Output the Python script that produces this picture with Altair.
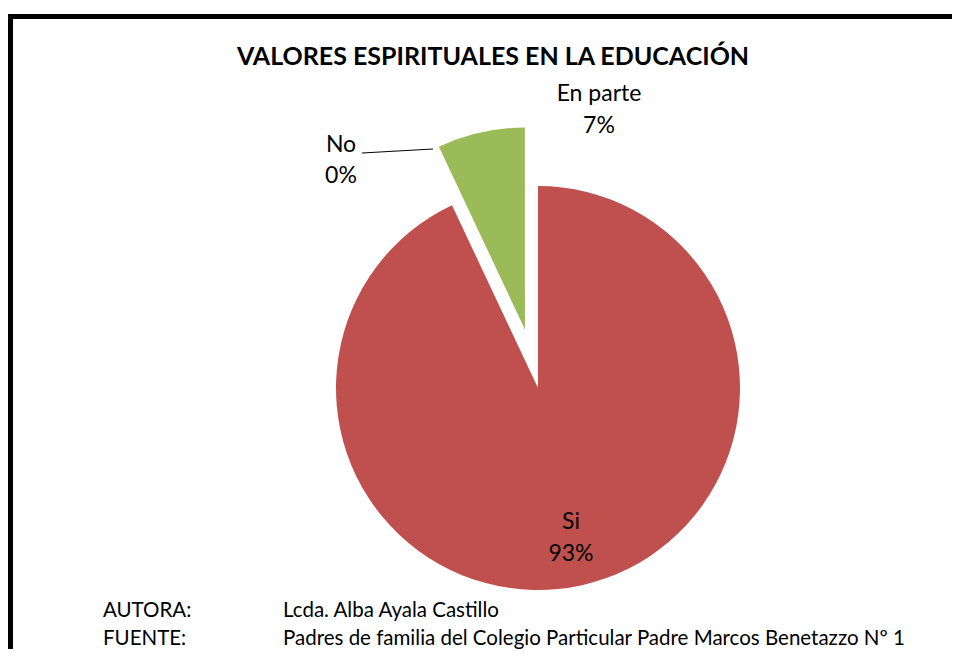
import math
import altair as alt
import pandas as pd

# ---- data ----
categorias = ["Si", "En parte", "No"]
valores = [93, 7, 0]
colores = ["#C0504D", "#9BBB59", "#4F81BD"]

titulo = "VALORES ESPIRITUALES EN LA EDUCACIÓN"
pie_etiquetas = ["AUTORA:", "FUENTE:"]
pie_textos = ["Lcda. Alba Ayala Castillo",
              "Padres de familia del Colegio Particular Padre Marcos Benetazzo Nº 1"]

df = pd.DataFrame({"categoria": categorias, "valor": valores})

W, H = 944, 641
CX, CY, R = 530, 380, 202
FONT = "Lato"

base = (
    alt.Chart(df)
    .transform_window(orden="row_number()")
    .transform_stack(stack="valor", groupby=[], as_=["v0", "v1"],
                     sort=[alt.SortField("orden")])
    .transform_calculate(etiqueta="datum.categoria + '\\n' + datum.valor + '%'")
)

theta_scale = alt.Scale(domain=[0, 100], range=[0, 2 * math.pi])
color = alt.Color("categoria:N", scale=alt.Scale(domain=categorias, range=colores),
                  legend=None)

def slice_layer(cat, dx=0.0, dy=0.0):
    return base.transform_filter(alt.datum.categoria == cat).mark_arc(
        outerRadius=R, xOffset=dx, yOffset=dy
    ).encode(
        theta=alt.Theta("v0:Q", scale=theta_scale),
        theta2="v1:Q",
        color=color,
        x=alt.value(CX), y=alt.value(CY),
    )

# explode "En parte" along its bisector
mid = (93 + 3.5) / 100 * 2 * math.pi
D = 60
arc_si = slice_layer("Si")
arc_ep = slice_layer("En parte", D * math.sin(mid), -D * math.cos(mid))
arc_no = slice_layer("No")

def label_layer(cat, x, y):
    return base.transform_filter(alt.datum.categoria == cat).mark_text(
        font=FONT, fontSize=23, lineBreak="\n", lineHeight=31.5,
        align="center", baseline="middle", color="black"
    ).encode(text="etiqueta:N", x=alt.value(x), y=alt.value(y))

lab_si = label_layer("Si", 563, 514)
lab_ep = label_layer("En parte", 591, 86)
lab_no = label_layer("No", 333, 136.5)

leader = base.transform_filter(alt.datum.categoria == "No").mark_rule(
    color="black", strokeWidth=1
).encode(x=alt.value(354), y=alt.value(145), x2=alt.value(425), y2=alt.value(141))

title_layer = alt.Chart(pd.DataFrame({"t": [titulo]})).mark_text(
    font=FONT, fontSize=25, fontWeight="bold", align="center", baseline="middle"
).encode(text="t:N", x=alt.value(485), y=alt.value(49))

foot = pd.DataFrame({"etq": pie_etiquetas, "txt": pie_textos, "fila": [0, 1]})
fila_y = alt.Y("fila:Q", scale=alt.Scale(domain=[0, 1], range=[603, 631]), axis=None)
foot_l = alt.Chart(foot).mark_text(
    font=FONT, fontSize=20.5, align="left", baseline="middle"
).encode(text="etq:N", x=alt.value(95), y=fila_y)
foot_r = alt.Chart(foot).mark_text(
    font=FONT, fontSize=20.5, align="left", baseline="middle"
).encode(text="txt:N", x=alt.value(275), y=fila_y)

border_top = alt.Chart(pd.DataFrame({"a": [0]})).mark_rule(
    color="black", strokeWidth=5
).encode(x=alt.value(0), x2=alt.value(W), y=alt.value(8.5))
border_left = alt.Chart(pd.DataFrame({"a": [0]})).mark_rule(
    color="black", strokeWidth=5
).encode(x=alt.value(2.5), y=alt.value(6), y2=alt.value(H))

chart = alt.layer(
    border_top, border_left, arc_si, arc_ep, arc_no, leader,
    lab_si, lab_ep, lab_no, title_layer, foot_l, foot_r
).properties(
    width=W, height=H, padding=0, autosize=alt.AutoSizeParams(type="none")
).configure_view(stroke=None).resolve_scale(y="independent")

chart.save("out.html", embed_options={"renderer": "svg", "actions": False})
